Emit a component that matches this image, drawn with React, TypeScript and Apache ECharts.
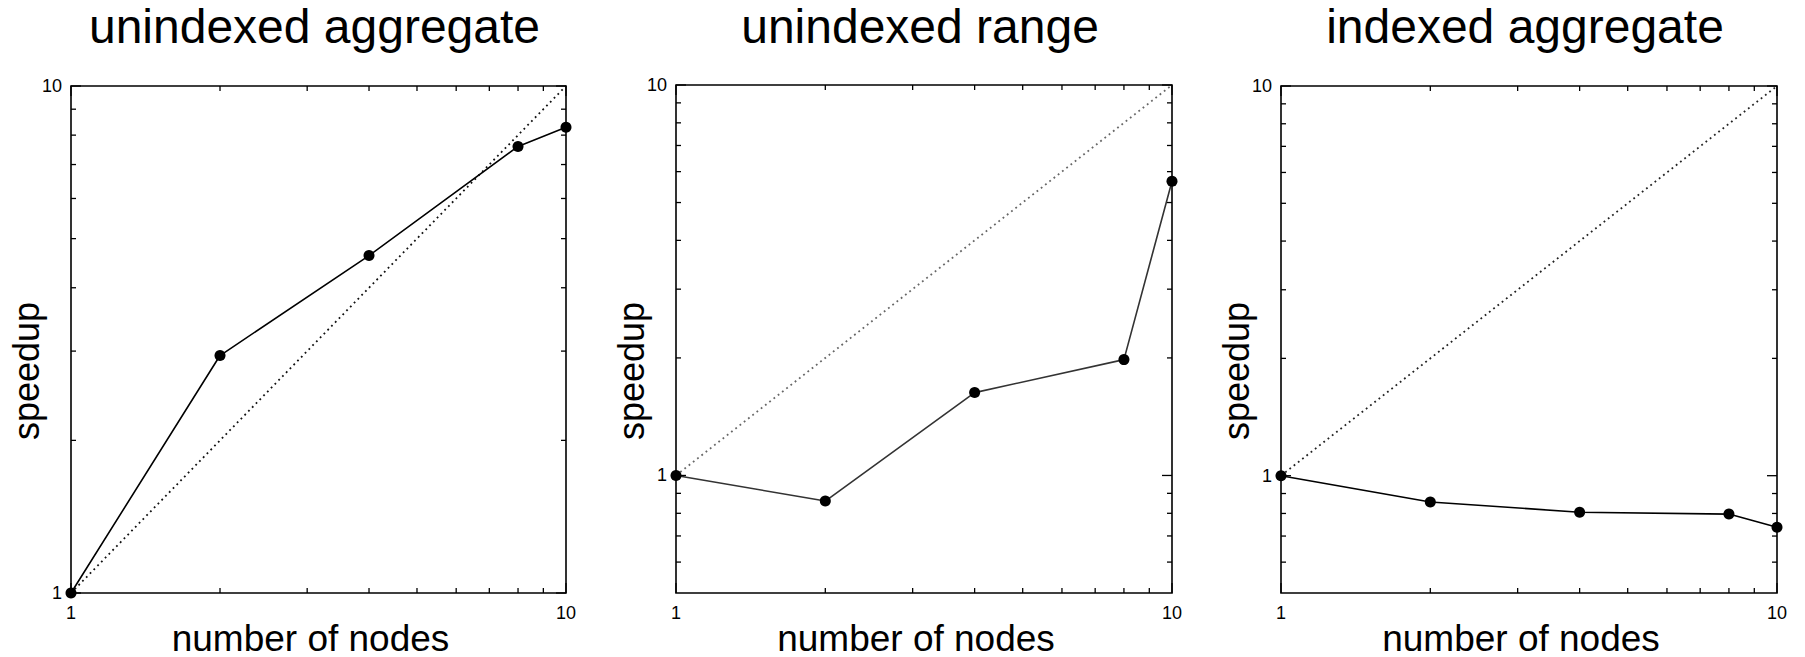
import React, { useEffect, useRef } from "react";
import * as echarts from "echarts";

// ---- data ----
const titles = ["unindexed aggregate", "unindexed range", "indexed aggregate"];
const nodes = [1, 2, 4, 8, 10];
const unindexedAggregate = [1, 2.94, 4.63, 7.6, 8.29];
const unindexedRange = [1, 0.86, 1.63, 1.98, 5.67];
const indexedAggregate = [1, 0.856, 0.806, 0.797, 0.737];
const idealNodes = [1, 10];
const idealSpeedup = [1, 10];
const xTickValues = [1, 2, 3, 4, 5, 6, 7, 8, 9, 10];
const yTickValuesA = [1, 2, 3, 4, 5, 6, 7, 8, 9, 10];
const yTickValuesB = [0.6, 0.7, 0.8, 0.9, 1, 2, 3, 4, 5, 6, 7, 8, 9, 10];
const xTickLabels = [1, 10];
const yTickLabels = [1, 10];
const yMins = [1, 0.5, 0.5];
const yMax = 10;
const xMin = 1;
const xMax = 10;
const seriesValues = [unindexedAggregate, unindexedRange, indexedAggregate];
const yTickSets = [yTickValuesA, yTickValuesB, yTickValuesB];

// ---- layout / style ----
const grids = [
  { left: 71, top: 86, width: 495, height: 507 },
  { left: 676, top: 85, width: 496, height: 508 },
  { left: 1281, top: 86, width: 496, height: 507 },
];
const lineColors = ["#000", "#333", "#000"];
const idealColors = ["#111", "#666", "#222"];
const FONT = "'Liberation Sans', Arial, Helvetica, sans-serif";
const LABEL_FONT = `18px ${FONT}`;

const isMajor = (v: number) => {
  const l = Math.log10(v);
  return Math.abs(l - Math.round(l)) < 1e-9;
};

function tickSeries(i: number, axis: "x" | "y", values: number[]) {
  return {
    type: "custom",
    xAxisIndex: i,
    yAxisIndex: i,
    silent: true,
    clip: false,
    z: 5,
    data: values.map((v) => (axis === "x" ? [v, 1] : [1, v])),
    renderItem: (params: any, api: any) => {
      const cs = params.coordSys;
      const xv = api.value(0);
      const yv = api.value(1);
      const p = api.coord([xv, yv]);
      const v = axis === "x" ? xv : yv;
      const len = isMajor(v) ? 10 : 5;
      const style = { stroke: "#000", lineWidth: 1.3 };
      if (axis === "x") {
        const bottom = cs.y + cs.height;
        return {
          type: "group",
          children: [
            { type: "line", shape: { x1: p[0], y1: bottom, x2: p[0], y2: bottom - len }, style },
            { type: "line", shape: { x1: p[0], y1: cs.y, x2: p[0], y2: cs.y + len }, style },
          ],
        };
      }
      const right = cs.x + cs.width;
      return {
        type: "group",
        children: [
          { type: "line", shape: { x1: cs.x, y1: p[1], x2: cs.x + len, y2: p[1] }, style },
          { type: "line", shape: { x1: right, y1: p[1], x2: right - len, y2: p[1] }, style },
        ],
      };
    },
  };
}

function labelSeries(i: number, axis: "x" | "y", values: number[]) {
  return {
    type: "custom",
    xAxisIndex: i,
    yAxisIndex: i,
    silent: true,
    clip: false,
    z: 6,
    data: values.map((v) => (axis === "x" ? [v, yMins[i]] : [xMin, v])),
    renderItem: (params: any, api: any) => {
      const cs = params.coordSys;
      const xv = api.value(0);
      const yv = api.value(1);
      const p = api.coord([xv, yv]);
      if (axis === "x") {
        return {
          type: "text",
          x: p[0],
          y: cs.y + cs.height + 20,
          style: {
            text: String(xv),
            font: LABEL_FONT,
            fill: "#000",
            textAlign: "center",
            textVerticalAlign: "middle",
          },
        };
      }
      return {
        type: "text",
        x: cs.x - 9,
        y: p[1],
        style: {
          text: String(yv),
          font: LABEL_FONT,
          fill: "#000",
          textAlign: "right",
          textVerticalAlign: "middle",
        },
      };
    },
  };
}

export default function App() {
  const ref = useRef<HTMLDivElement>(null);
  useEffect(() => {
    if (!ref.current) return;
    const chart = echarts.init(ref.current, undefined, { renderer: "svg" });

    const series: any[] = [];
    grids.forEach((_, i) => {
      series.push({
        type: "line",
        xAxisIndex: i,
        yAxisIndex: i,
        data: idealNodes.map((x, k) => [x, idealSpeedup[k]]),
        showSymbol: false,
        lineStyle: { color: idealColors[i], width: 1.8, type: [1.8, 3.6] },
        z: 2,
      });
      series.push({
        type: "line",
        xAxisIndex: i,
        yAxisIndex: i,
        data: nodes.map((x, k) => [x, seriesValues[i][k]]),
        symbol: "circle",
        symbolSize: 11,
        itemStyle: { color: "#000" },
        lineStyle: { color: lineColors[i], width: 1.6 },
        z: 3,
      });
      series.push(tickSeries(i, "x", xTickValues));
      series.push(tickSeries(i, "y", yTickSets[i]));
      series.push(labelSeries(i, "x", xTickLabels));
      series.push(labelSeries(i, "y", yTickLabels));
    });

    const graphic: any[] = [];
    grids.forEach((g, i) => {
      const cx = g.left + g.width / 2;
      graphic.push({
        type: "text",
        x: cx - 4,
        y: 26,
        style: {
          text: titles[i],
          font: `48px ${FONT}`,
          fill: "#000",
          textAlign: "center",
          textVerticalAlign: "middle",
        },
      });
      graphic.push({
        type: "text",
        x: cx - 8,
        y: 638,
        style: {
          text: "number of nodes",
          font: `37px ${FONT}`,
          fill: "#000",
          textAlign: "center",
          textVerticalAlign: "middle",
        },
      });
      graphic.push({
        type: "text",
        x: g.left - 45,
        y: 371,
        rotation: Math.PI / 2,
        style: {
          text: "speedup",
          font: `36px ${FONT}`,
          fill: "#000",
          textAlign: "center",
          textVerticalAlign: "middle",
        },
      });
    });

    chart.setOption({
      animation: false,
      backgroundColor: "#fff",
      grid: grids.map((g) => ({
        ...g,
        show: true,
        borderColor: "#000",
        borderWidth: 1.6,
        backgroundColor: "transparent",
      })),
      xAxis: grids.map((_, i) => ({
        type: "log",
        logBase: 10,
        gridIndex: i,
        min: xMin,
        max: xMax,
        axisLine: { show: false },
        axisTick: { show: false },
        splitLine: { show: false },
        axisLabel: { show: false },
      })),
      yAxis: grids.map((_, i) => ({
        type: "log",
        logBase: 10,
        gridIndex: i,
        min: yMins[i],
        max: yMax,
        axisLine: { show: false },
        axisTick: { show: false },
        splitLine: { show: false },
        axisLabel: { show: false },
      })),
      series,
      graphic,
    });
    return () => chart.dispose();
  }, []);
  return (
    <div
      ref={ref}
      style={{ position: "fixed", left: 0, top: 0, width: 1805, height: 657, background: "#fff" }}
    />
  );
}
